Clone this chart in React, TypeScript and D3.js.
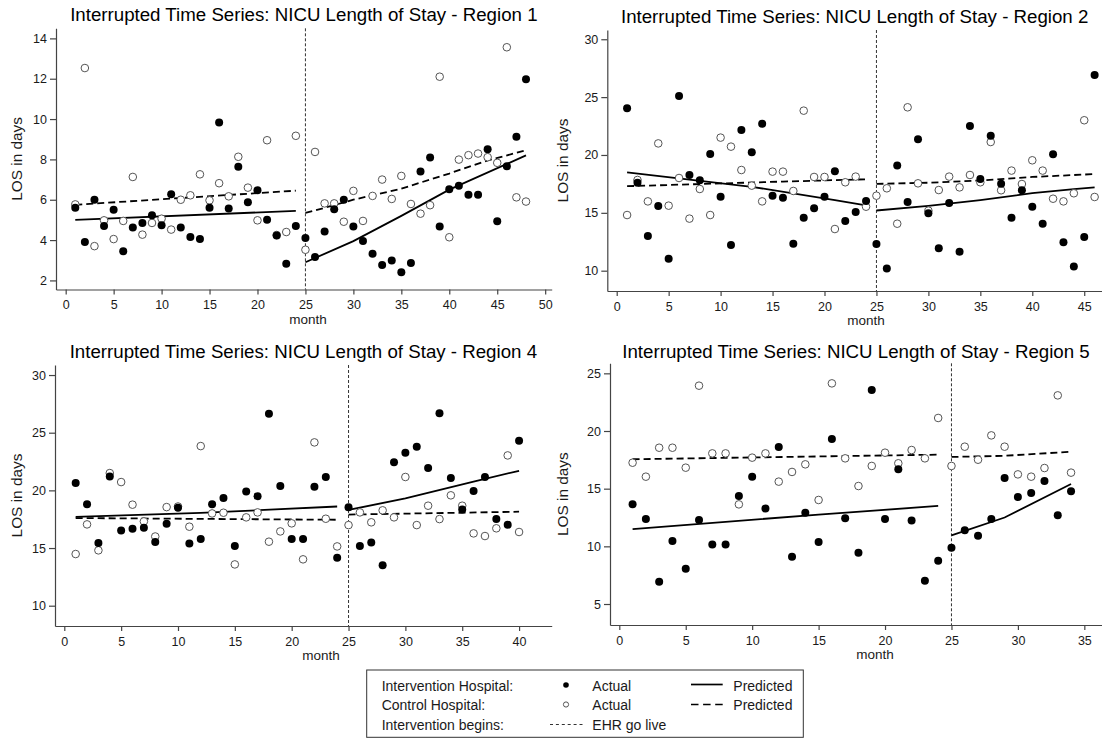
import React, { useEffect, useRef } from "react";
import * as d3 from "d3";

const FONT = "Arial, 'Liberation Sans', Helvetica, sans-serif";

// ---- Region 1 (months 1..48)
const r1Intervention = [5.6, 3.9, 6.0, 4.7, 5.5, 3.45, 4.62, 4.85, 5.23, 4.73, 6.27, 4.62, 4.15, 4.05, 5.6, 9.83, 5.56, 7.63, 5.88, 6.47, 5.01, 4.23, 2.83, 4.7,
	4.1, 3.16, 4.43, 5.53, 6.0, 4.67, 3.95, 3.32, 2.76, 2.99, 2.41, 2.86, 7.4, 8.09, 4.67, 6.52, 6.69, 6.25, 6.25, 8.5, 4.93, 7.66, 9.12, 11.98];
const r1Control = [5.77, 12.53, 3.7, 4.98, 4.05, 4.95, 7.13, 4.27, 4.85, 5.06, 4.52, 6.0, 6.22, 7.26, 5.97, 6.82, 6.17, 8.13, 6.6, 4.98, 8.95, 4.25, 4.4, 9.17,
	3.52, 8.37, 5.82, 5.82, 4.91, 6.44, 4.95, 6.19, 7.0, 6.04, 7.18, 5.79, 5.31, 5.73, 12.1, 4.14, 7.99, 8.21, 8.29, 8.11, 7.83, 13.56, 6.12, 5.91];
const r1IntPre = [[1, 5.0], [24, 5.45]];
const r1IntPost = [[25, 2.9], [30, 3.95], [35, 5.2], [40, 6.5], [48, 8.2]];
const r1CtlPre = [[1, 5.75], [24, 6.45]];
const r1CtlPost = [[25, 5.35], [27, 5.6], [30, 6.0], [35, 6.55], [40, 7.3], [44, 7.95], [48, 8.45]];

// ---- Region 2 (months 1..46)
const r2Intervention = [24.03, 17.6, 13.0, 15.6, 11.04, 25.1, 18.27, 17.81, 20.09, 16.4, 12.22, 22.16, 20.23, 22.7, 16.48, 16.31, 12.33, 14.58, 15.39, 16.4, 18.59, 14.29, 15.07, 16.02,
	12.3, 10.2, 19.08, 15.94, 21.35, 14.96, 11.93, 15.85, 11.64, 22.5, 17.93, 21.67, 17.52, 14.58, 16.95, 15.53, 14.06, 20.06, 12.45, 10.37, 12.91, 26.92];
const r2Control = [14.81, 17.84, 15.99, 21.0, 15.62, 18.01, 14.5, 17.06, 14.81, 21.5, 20.72, 18.7, 17.35, 15.99, 18.56, 18.56, 16.89, 23.83, 18.1, 18.1, 13.6, 17.64, 18.13, 15.53,
	16.48, 17.12, 14.06, 24.12, 17.55, 15.19, 16.97, 18.13, 17.2, 18.27, 17.64, 21.12, 16.95, 18.65, 17.49, 19.54, 18.65, 16.22, 15.99, 16.69, 23.0, 16.37];
const r2IntPre = [[1, 18.5], [13, 17.25], [21, 16.1], [24, 15.65]];
const r2IntPost = [[25, 15.2], [30, 15.6], [35, 16.1], [40, 16.7], [44, 17.05], [46, 17.2]];
const r2CtlPre = [[1, 17.3], [16, 17.7], [24, 17.9]];
const r2CtlPost = [[25, 17.5], [30, 17.6], [35, 17.8], [40, 18.1], [46, 18.35]];

// ---- Region 4 (months 1..40)
const r4Intervention = [20.63, 18.79, 15.43, 21.21, 16.53, 16.68, 16.75, 15.52, 17.11, 18.5, 15.4, 15.78, 18.79, 19.34, 15.17, 19.91, 19.5, 26.65, 20.38, 15.78, 15.78, 20.32, 21.16, 14.16,
	18.53, 15.17, 15.49, 13.5, 22.43, 23.27, 23.79, 21.94, 26.68, 21.07, 18.35, 19.94, 21.16, 17.51, 17.02, 24.31];
const r4Control = [14.48, 17.05, 14.8, 21.5, 20.72, 18.76, 17.31, 16.0, 18.55, 18.6, 16.85, 23.84, 18.0, 18.06, 13.58, 17.66, 18.09, 15.55, 16.44, 17.14, 14.02, 24.16, 17.54, 15.14,
	16.99, 18.09, 17.23, 18.27, 17.66, 21.16, 16.99, 18.67, 17.51, 19.57, 18.67, 16.27, 16.04, 16.71, 23.03, 16.39];
const r4IntPre = [[1, 17.7], [12, 18.05], [24, 18.6]];
const r4IntPost = [[25, 18.3], [30, 19.3], [36, 20.75], [40, 21.7]];
const r4CtlPre = [[1, 17.6], [24, 17.45]];
const r4CtlPost = [[25, 17.9], [40, 18.15]];

// ---- Region 5 (months 1..34)
const r5Intervention = [13.64, 12.37, 6.94, 10.46, 8.06, 12.28, 10.17, 10.17, 14.36, 16.04, 13.27, 18.61, 9.1, 12.92, 10.38, 19.3, 12.43, 9.45, 23.55, 12.37, 16.68, 12.23, 7.02, 8.76,
	9.88, 11.39, 10.92, 12.37, 15.92, 14.28, 14.62, 15.66, 12.69, 14.77];
const r5Control = [17.25, 16.04, 18.55, 18.55, 16.82, 23.93, 18.06, 18.06, 13.64, 17.69, 18.06, 15.61, 16.45, 17.11, 14.02, 24.13, 17.63, 15.23, 16.97, 18.12, 17.2, 18.35, 17.63, 21.13,
	16.97, 18.64, 17.51, 19.62, 18.64, 16.24, 16.04, 16.79, 23.09, 16.39];
const r5IntPre = [[1, 11.5], [15, 12.75], [24, 13.5]];
const r5IntPost = [[25, 10.95], [29, 12.5], [34, 15.4]];
const r5CtlPre = [[1, 17.55], [24, 17.95]];
const r5CtlPost = [[25, 17.75], [29, 17.85], [34, 18.2]];

const GO_LIVE = 25;

const PANELS = [
	{
		title: "Interrupted Time Series: NICU Length of Stay - Region 1",
		intervention: r1Intervention, control: r1Control,
		intPre: r1IntPre, intPost: r1IntPost, ctlPre: r1CtlPre, ctlPost: r1CtlPost,
		xTicks: d3.range(0, 51, 5), yTicks: d3.range(2, 15, 2),
		xDomain: [-1.01, 50.68], yDomain: [1.55, 14.5],
		box: { left: 56, right: 551.7, top: 28.3, bottom: 289.5 },
		titleY: 21, yLabelX: 22, monthX: 308
	},
	{
		title: "Interrupted Time Series: NICU Length of Stay - Region 2",
		intervention: r2Intervention, control: r2Control,
		intPre: r2IntPre, intPost: r2IntPost, ctlPre: r2CtlPre, ctlPost: r2CtlPost,
		xTicks: d3.range(0, 46, 5), yTicks: d3.range(10, 31, 5),
		xDomain: [-0.905, 46.71], yDomain: [8.245, 30.8],
		box: { left: 607.3, right: 1102, top: 30, bottom: 291 },
		titleY: 22.5, yLabelX: 568, monthX: 866
	},
	{
		title: "Interrupted Time Series: NICU Length of Stay - Region 4",
		intervention: r4Intervention, control: r4Control,
		intPre: r4IntPre, intPost: r4IntPost, ctlPre: r4CtlPre, ctlPost: r4CtlPost,
		xTicks: d3.range(0, 41, 5), yTicks: d3.range(10, 31, 5),
		xDomain: [-0.818, 42.87], yDomain: [8.24, 30.87],
		box: { left: 55, right: 551.7, top: 365, bottom: 626 },
		titleY: 358, yLabelX: 22, monthX: 321
	},
	{
		title: "Interrupted Time Series: NICU Length of Stay - Region 5",
		intervention: r5Intervention, control: r5Control,
		intPre: r5IntPre, intPost: r5IntPost, ctlPre: r5CtlPre, ctlPost: r5CtlPost,
		xTicks: d3.range(0, 36, 5), yTicks: d3.range(5, 26, 5),
		xDomain: [-0.7, 36.33], yDomain: [3.18, 25.87],
		box: { left: 610, right: 1102, top: 363.3, bottom: 625 },
		titleY: 358, yLabelX: 568, monthX: 875
	}
];

const AXIS_COLOR = "#444";
const TEXT_COLOR = "#1a1a1a";

function Panel({ cfg }) {
	const ref = useRef(null);

	useEffect(() => {
		const g = d3.select(ref.current);
		g.selectAll("*").remove();
		const b = cfg.box;

		const x = d3.scaleLinear().domain(cfg.xDomain).range([b.left, b.right]);
		const y = d3.scaleLinear().domain(cfg.yDomain).range([b.bottom, b.top]);

		// title
		g.append("text")
			.attr("x", (b.left + b.right) / 2)
			.attr("y", cfg.titleY)
			.attr("text-anchor", "middle")
			.attr("font-size", 18.7)
			.attr("fill", "#000")
			.text(cfg.title);

		// axes
		const yAxis = d3.axisLeft(y).tickValues(cfg.yTicks).tickSize(6).tickSizeOuter(0).tickPadding(3);
		const xAxis = d3.axisBottom(x).tickValues(cfg.xTicks).tickSize(5).tickSizeOuter(0).tickPadding(6);

		const ya = g.append("g").attr("transform", `translate(${b.left},0)`).call(yAxis);
		const xa = g.append("g").attr("transform", `translate(0,${b.bottom})`).call(xAxis);
		[ya, xa].forEach(a => {
			a.attr("font-family", FONT).attr("font-size", 12.5);
			a.selectAll("path, line").attr("stroke", AXIS_COLOR).attr("stroke-width", 1.2);
			a.selectAll("text").attr("fill", TEXT_COLOR);
		});

		// axis titles
		g.append("text")
			.attr("transform", `translate(${cfg.yLabelX},${(b.top + b.bottom) / 2}) rotate(-90)`)
			.attr("text-anchor", "middle")
			.attr("font-size", 15.4)
			.attr("fill", TEXT_COLOR)
			.text("LOS in days");
		g.append("text")
			.attr("x", cfg.monthX)
			.attr("y", b.bottom + 34)
			.attr("text-anchor", "middle")
			.attr("font-size", 13.5)
			.attr("fill", TEXT_COLOR)
			.text("month");

		// EHR go live
		g.append("line")
			.attr("x1", x(GO_LIVE)).attr("x2", x(GO_LIVE))
			.attr("y1", b.top).attr("y2", b.bottom)
			.attr("stroke", "#333")
			.attr("stroke-width", 1)
			.attr("stroke-dasharray", "3,2");

		// predicted lines
		const line = d3.line().x(d => x(d[0])).y(d => y(d[1]));
		[cfg.intPre, cfg.intPost].forEach(seg => {
			g.append("path").attr("d", line(seg)).attr("fill", "none")
				.attr("stroke", "#000").attr("stroke-width", 1.8);
		});
		[cfg.ctlPre, cfg.ctlPost].forEach(seg => {
			g.append("path").attr("d", line(seg)).attr("fill", "none")
				.attr("stroke", "#000").attr("stroke-width", 1.8)
				.attr("stroke-dasharray", "7,4");
		});

		// actual values
		g.append("g").selectAll("circle").data(cfg.control).enter().append("circle")
			.attr("cx", (d, i) => x(i + 1))
			.attr("cy", d => y(d))
			.attr("r", 3.8)
			.attr("fill", "#fff")
			.attr("stroke", "#555")
			.attr("stroke-width", 1);
		g.append("g").selectAll("circle").data(cfg.intervention).enter().append("circle")
			.attr("cx", (d, i) => x(i + 1))
			.attr("cy", d => y(d))
			.attr("r", 4)
			.attr("fill", "#000");
	}, [cfg]);

	return <g ref={ref} />;
}

function Legend() {
	const rows = [690.5, 710, 730];
	return (
		<g fontSize={14} fill={TEXT_COLOR}>
			<rect x={366.7} y={670} width={436.6} height={67.3} fill="#fff" stroke="#333" strokeWidth={1} />
			<text x={381.7} y={rows[0]}>Intervention Hospital:</text>
			<text x={381.7} y={rows[1]}>Control Hospital:</text>
			<text x={381.7} y={rows[2]}>Intervention begins:</text>
			<circle cx={566} cy={685} r={2.8} fill="#000" />
			<circle cx={566} cy={704.5} r={2.6} fill="#fff" stroke="#555" strokeWidth={1} />
			<text x={592.3} y={rows[0]}>Actual</text>
			<text x={592.3} y={rows[1]}>Actual</text>
			<line x1={691} x2={722.7} y1={684.5} y2={684.5} stroke="#000" strokeWidth={1.7} />
			<line x1={691} x2={722.7} y1={704.5} y2={704.5} stroke="#000" strokeWidth={1.7} strokeDasharray="7.5,4.6" />
			<text x={733.3} y={rows[0]}>Predicted</text>
			<text x={733.3} y={rows[1]}>Predicted</text>
			<line x1={550} x2={582.7} y1={724.5} y2={724.5} stroke="#333" strokeWidth={1} strokeDasharray="3,2.9" />
			<text x={592.3} y={rows[2]}>EHR go live</text>
		</g>
	);
}

export default function App() {
	return (
		<div style={{ position: "absolute", left: 0, top: 0, width: 1102, height: 740, background: "#fff" }}>
			<svg width={1102} height={740} style={{ display: "block" }} fontFamily={FONT}>
				<rect width={1102} height={740} fill="#fff" />
				{PANELS.map((p, i) => <Panel key={i} cfg={p} />)}
				<Legend />
			</svg>
		</div>
	);
}
